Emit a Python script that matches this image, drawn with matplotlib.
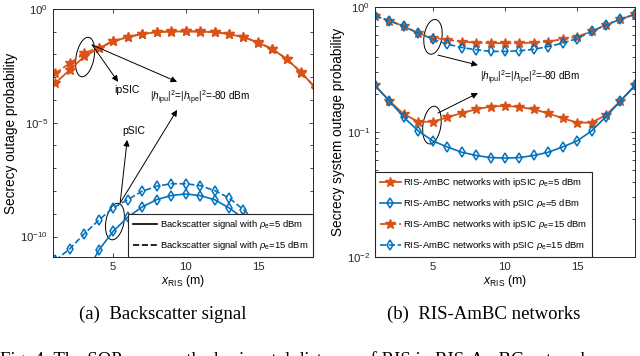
import numpy as np
import matplotlib
matplotlib.use('Agg')
import matplotlib.pyplot as plt
from matplotlib.lines import Line2D
from matplotlib.patches import Ellipse
from matplotlib.ticker import FixedLocator, NullFormatter, LogLocator

plt.rcParams['font.family'] = ['Liberation Sans', 'DejaVu Sans']
plt.rcParams['mathtext.fontset'] = 'custom'
plt.rcParams['mathtext.rm'] = 'Liberation Sans'
plt.rcParams['mathtext.it'] = 'Liberation Sans:italic'

# horizontal position of the RIS (m)
x_ris = np.arange(1, 20)

# (a) backscatter signal, log10 of the secrecy outage probability
bs_ipsic_rho5 = [-3.26, -2.68, -2.09, -1.73, -1.43, -1.24, -1.11, -1.02, -0.995, -0.99,
                 -1.0, -1.02, -1.11, -1.24, -1.48, -1.77, -2.21, -2.80, -3.5]
bs_ipsic_rho15 = [-2.83, -2.39, -1.95, -1.70, -1.42, -1.23, -1.10, -1.01, -0.99, -0.985,
                  -0.99, -1.01, -1.10, -1.23, -1.47, -1.76, -2.20, -2.79, -3.48]
bs_psic_rho5 = [-13.5, -12.6, -11.8, -10.6, -9.77, -9.15, -8.70, -8.38, -8.20, -8.13,
                -8.20, -8.38, -8.74, -9.2, -9.9, -10.85, -11.9, -12.8, -13.6]
bs_psic_rho15 = [-11.05, -10.54, -9.88, -9.28, -8.74, -8.38, -8.01, -7.79, -7.68, -7.68,
                 -7.76, -7.98, -8.30, -8.82, -9.4, -10.1, -10.9, -11.8, -12.8]

# (b) RIS-AmBC networks, secrecy system outage probability
net_ipsic_rho5 = [0.236, 0.177, 0.139, 0.121, 0.121, 0.131, 0.142, 0.152, 0.160, 0.162,
                  0.159, 0.152, 0.141, 0.129, 0.119, 0.119, 0.137, 0.177, 0.236]
net_psic_rho5 = [0.236, 0.177, 0.131, 0.102, 0.085, 0.076, 0.069, 0.065, 0.0625, 0.062,
                 0.0625, 0.065, 0.069, 0.076, 0.085, 0.102, 0.133, 0.177, 0.236]
net_ipsic_rho15 = [0.85, 0.78, 0.70, 0.62, 0.57, 0.547, 0.53, 0.52, 0.515, 0.515,
                   0.515, 0.52, 0.53, 0.554, 0.58, 0.64, 0.72, 0.80, 0.875]
net_psic_rho15 = [0.85, 0.78, 0.70, 0.62, 0.554, 0.506, 0.475, 0.456, 0.442, 0.442,
                  0.447, 0.46, 0.484, 0.515, 0.56, 0.64, 0.72, 0.80, 0.875]

orange = '#D95319'
blue = '#0072BD'
edge = '#262626'

fig = plt.figure(figsize=(6.4, 3.56), dpi=100)
ax1 = fig.add_axes([0.083, 0.278, 0.406, 0.697])
ax2 = fig.add_axes([0.586, 0.278, 0.406, 0.702])

star = dict(marker='*', markersize=7.5, lw=1.3)
diam = dict(marker='d', markersize=5.5, mfc='none', mew=1.1, lw=1.2)

# ---- (a) ----
ax1.plot(x_ris, 10.0 ** np.array(bs_ipsic_rho5), '-', color=orange, **star)
ax1.plot(x_ris, 10.0 ** np.array(bs_ipsic_rho15), '--', color=orange, **star)
ax1.plot(x_ris, 10.0 ** np.array(bs_psic_rho5), '-', color=blue, **diam)
ax1.plot(x_ris, 10.0 ** np.array(bs_psic_rho15), '--', color=blue, **diam)
ax1.set_yscale('log')
ax1.set_xlim(0.85, 18.8)
ax1.set_ylim(10 ** -10.9, 1)
ax1.yaxis.set_major_locator(FixedLocator([1e-10, 1e-5, 1]))
ax1.yaxis.set_minor_locator(FixedLocator([10.0 ** -k for k in range(11)]))
ax1.yaxis.set_minor_formatter(NullFormatter())
ax1.set_ylabel('Secrecy outage probability', fontsize=9.8, labelpad=2)

handles = [Line2D([], [], color='k', lw=1.2, ls='-'),
           Line2D([], [], color='k', lw=1.2, ls='--')]
leg1 = ax1.legend(handles, [r'Backscatter signal with $\rho_{\rm e}$=5 dBm',
                            r'Backscatter signal with $\rho_{\rm e}$=15 dBm'],
                  loc='lower right', fontsize=6.8, handlelength=2.6, handletextpad=0.3,
                  labelspacing=0.85, borderaxespad=0, borderpad=0.5, fancybox=False,
                  framealpha=1, edgecolor=edge)
leg1.get_frame().set_linewidth(0.8)

# annotations (a)
ax1.add_patch(Ellipse((0.123, 0.806), 0.069, 0.161, angle=-10, transform=ax1.transAxes,
                      fill=False, ec='k', lw=0.7))
ax1.add_patch(Ellipse((0.238, 0.143), 0.069, 0.149, angle=-10, transform=ax1.transAxes,
                      fill=False, ec='k', lw=0.7))
arr = dict(arrowstyle='-|>', color='k', lw=0.7, mutation_scale=9, shrinkA=0, shrinkB=0)
ax1.annotate('', xy=(0.25, 0.706), xytext=(0.15, 0.855), xycoords='axes fraction', arrowprops=arr)
ax1.annotate('', xy=(0.477, 0.706), xytext=(0.15, 0.855), xycoords='axes fraction', arrowprops=arr)
ax1.annotate('', xy=(0.285, 0.472), xytext=(0.258, 0.218), xycoords='axes fraction', arrowprops=arr)
ax1.annotate('', xy=(0.477, 0.593), xytext=(0.258, 0.218), xycoords='axes fraction', arrowprops=arr)
ax1.text(0.285, 0.673, 'ipSIC', transform=ax1.transAxes, ha='center', va='center', fontsize=7.5)
ax1.text(0.312, 0.508, 'pSIC', transform=ax1.transAxes, ha='center', va='center', fontsize=7.5)
ax1.text(0.565, 0.641, r'$|h_{\rm ipu}|^2$=$|h_{\rm ipe}|^2$=-80 dBm', transform=ax1.transAxes,
         ha='center', va='center', fontsize=7.2)

# ---- (b) ----
ax2.plot(x_ris, net_ipsic_rho5, '-', color=orange, **star,
         label=r'RIS-AmBC networks with ipSIC $\rho_{\rm e}$=5 dBm')
ax2.plot(x_ris, net_psic_rho5, '-', color=blue, **diam,
         label=r'RIS-AmBC networks with pSIC $\rho_{\rm e}$=5 dBm')
ax2.plot(x_ris, net_ipsic_rho15, '--', color=orange, **star,
         label=r'RIS-AmBC networks with ipSIC $\rho_{\rm e}$=15 dBm')
ax2.plot(x_ris, net_psic_rho15, '--', color=blue, **diam,
         label=r'RIS-AmBC networks with pSIC $\rho_{\rm e}$=15 dBm')
ax2.set_yscale('log')
ax2.set_xlim(1, 19)
ax2.set_ylim(0.01, 1)
ax2.yaxis.set_major_locator(LogLocator(base=10))
ax2.yaxis.set_minor_locator(LogLocator(base=10, subs=np.arange(2, 10)))
ax2.yaxis.set_minor_formatter(NullFormatter())
ax2.set_ylabel('Secrecy system outage probability', fontsize=9.8, labelpad=1)
leg2 = ax2.legend(loc='lower left', fontsize=6.8, handlelength=2.2, handletextpad=0.3,
                  labelspacing=0.85, borderaxespad=0, borderpad=0.5, fancybox=False,
                  framealpha=1, edgecolor=edge)
leg2.get_frame().set_linewidth(0.8)

ax2.add_patch(Ellipse((0.223, 0.881), 0.069, 0.14, angle=-8, transform=ax2.transAxes,
                      fill=False, ec='k', lw=0.7))
ax2.add_patch(Ellipse((0.219, 0.528), 0.069, 0.152, angle=-8, transform=ax2.transAxes,
                      fill=False, ec='k', lw=0.7))
ax2.annotate('', xy=(0.396, 0.768), xytext=(0.242, 0.808), xycoords='axes fraction', arrowprops=arr)
ax2.annotate('', xy=(0.396, 0.656), xytext=(0.242, 0.576), xycoords='axes fraction', arrowprops=arr)
ax2.text(0.596, 0.716, r'$|h_{\rm ipu}|^2$=$|h_{\rm ipe}|^2$=-80 dBm', transform=ax2.transAxes,
         ha='center', va='center', fontsize=7.2)

for ax in (ax1, ax2):
    ax.set_xticks([5, 10, 15])
    ax.set_xlabel(r'$x_{\rm RIS}$ (m)', fontsize=8.8, labelpad=1)
    ax.tick_params(direction='in', which='both', top=True, right=True, labelsize=8.2,
                   colors=edge, length=3, width=0.6)
    ax.tick_params(which='minor', length=2)
    for s in ax.spines.values():
        s.set_color(edge)
        s.set_linewidth(0.7)

fig.text(0.255, 0.118, '(a)  Backscatter signal', ha='center', va='center',
         fontsize=13.5, family='Liberation Serif')
fig.text(0.755, 0.118, '(b)  RIS-AmBC networks', ha='center', va='center',
         fontsize=13.5, family='Liberation Serif')
fig.text(0.0, -0.025, 'Fig. 4: The SOPs versus the horizontal distance of RIS in RIS-AmBC networks.',
         ha='left', va='baseline', fontsize=13.5, family='Liberation Serif')

fig.savefig('out.png', dpi=100)
